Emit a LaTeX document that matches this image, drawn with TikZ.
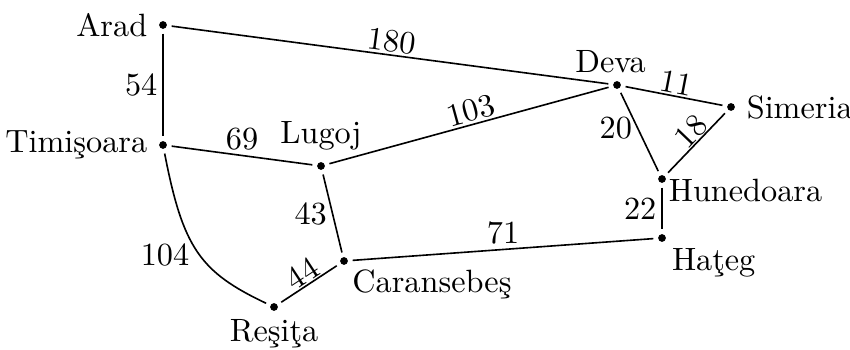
\documentclass[tikz,border=0pt]{standalone}
\begin{document}
\begin{tikzpicture}[x=0.31pt,y=-0.31pt,
  city/.style={circle,fill=black,inner sep=0pt,minimum size=2.4pt,outer sep=1.5pt},
  road/.style={line width=0.5pt},
  dist/.style={inner sep=1.5pt},
  sdist/.style={inner sep=0.6pt,sloped,above}]
\useasboundingbox (0,0) rectangle (850,350);
\node[city,label={[inner sep=2pt]left:Arad}] (arad) at (163,25) {};
\node[city,label={[inner sep=2pt]left:Timişoara}] (tim) at (163,145) {};
\node[city,label={[inner sep=2pt]above:Lugoj}] (lug) at (321,166) {};
\node[city,label={[inner sep=1pt,xshift=-2pt]above:Deva}] (dev) at (617,85) {};
\node[city,label={[inner sep=2pt]right:Simeria}] (sim) at (731,107) {};
\node[city,label={[inner sep=0pt,yshift=2pt]below right:Hunedoara}] (hun) at (662,179) {};
\node[city,label={[inner sep=1pt]below right:Haţeg}] (hat) at (662,238) {};
\node[city,label={[inner sep=0.5pt]below right:Caransebeş}] (car) at (344,261) {};
\node[city,label={[inner sep=1pt]below:Reşiţa}] (res) at (274,307) {};
\draw[road] (arad) -- node[dist,left] {54} (tim);
\draw[road] (arad) -- node[sdist,pos=0.5] {180} (dev);
\draw[road] (tim) -- node[dist,above,pos=0.5] {69} (lug);
\draw[road] (lug) -- node[sdist,pos=0.52] {103} (dev);
\draw[road] (dev) -- node[sdist] {11} (sim);
\draw[road] (dev) -- node[dist,left,pos=0.45] {20} (hun);
\draw[road] (hun) -- node[sdist,inner sep=0pt,pos=0.55] {18} (sim);
\draw[road] (hun) -- node[dist,left] {22} (hat);
\draw[road] (lug) -- node[dist,left] {43} (car);
\draw[road] (car) -- node[dist,above,pos=0.5] {71} (hat);
\draw[road] (tim) .. controls (183,248) and (200,272) .. (res);
\node[dist] (d104) at (165,255) {104};
\draw[road] (res) -- node[sdist,inner sep=0.3pt] {44} (car);
\end{tikzpicture}
\end{document}
